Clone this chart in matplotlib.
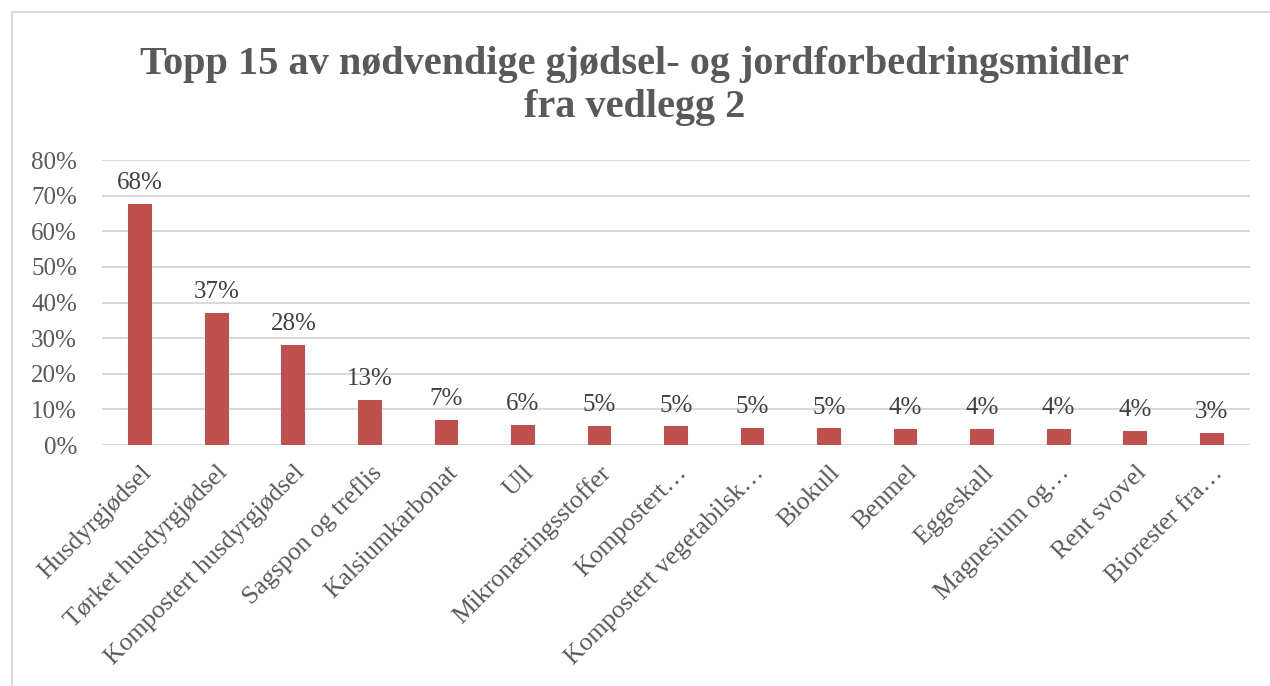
import matplotlib
matplotlib.use("Agg")
import matplotlib.pyplot as plt
from matplotlib.patches import Rectangle
from matplotlib.ticker import FuncFormatter

categories = ["Husdyrgjødsel", "Tørket husdyrgjødsel", "Kompostert husdyrgjødsel",
              "Sagspon og treflis", "Kalsiumkarbonat", "Ull", "Mikronæringsstoffer",
              "Kompostert…", "Kompostert vegetabilsk…", "Biokull", "Benmel",
              "Eggeskall", "Magnesium og…", "Rent svovel", "Biorester fra…"]
values = [0.676, 0.370, 0.281, 0.126, 0.070, 0.056, 0.053, 0.052, 0.048,
          0.047, 0.045, 0.045, 0.045, 0.039, 0.034]
labels = ["68%", "37%", "28%", "13%", "7%", "6%", "5%", "5%", "5%", "5%",
          "4%", "4%", "4%", "4%", "3%"]
title = "Topp 15 av nødvendige gjødsel- og jordforbedringsmidler\nfra vedlegg 2"

serif = ["Liberation Serif", "DejaVu Serif"]
plt.rcParams['font.family'] = serif

fig = plt.figure(figsize=(12.7, 6.86), dpi=100)
fig.patches.append(Rectangle((12/1270, -0.05), 1.1, (686-12)/686 + 0.05,
                             transform=fig.transFigure, fill=False,
                             edgecolor="#d9d9d9", linewidth=1.5))

ax = fig.add_axes([102/1270, 1-445/686, (1250-102)/1270, (445-160)/686])
x = list(range(len(categories)))
ax.bar(x, values, width=0.31, color="#c0504d", zorder=3)
ax.set_xlim(-0.5, len(categories) - 0.5)
ax.set_ylim(0, 0.8)
ax.set_yticks([i/10 for i in range(9)])
ax.yaxis.set_major_formatter(FuncFormatter(lambda v, p: f"{v*100:.0f}%"))
ax.grid(axis="y", color="#d9d9d9", linewidth=1.5, zorder=0)
for s in ax.spines.values():
    s.set_visible(False)
ax.tick_params(axis="y", length=0, labelsize=18, labelcolor="#595959", pad=18)
ax.set_xticks(x)
ax.set_xticklabels(categories, rotation=45, ha="right", rotation_mode="anchor")
ax.tick_params(axis="x", length=0, labelsize=18.5, labelcolor="#595959", pad=12)

for xi, v, lab in zip(x, values, labels):
    ax.annotate(lab, (xi, v), xytext=(0, 7), textcoords="offset points",
                ha="center", va="bottom", fontsize=18, color="#404040")

fig.text(0.5, 1 - 46/686, title, ha="center", va="top", fontsize=29,
         fontweight="bold", color="#595959", linespacing=1.22)

fig.savefig("out.png", dpi=100, facecolor="white")
